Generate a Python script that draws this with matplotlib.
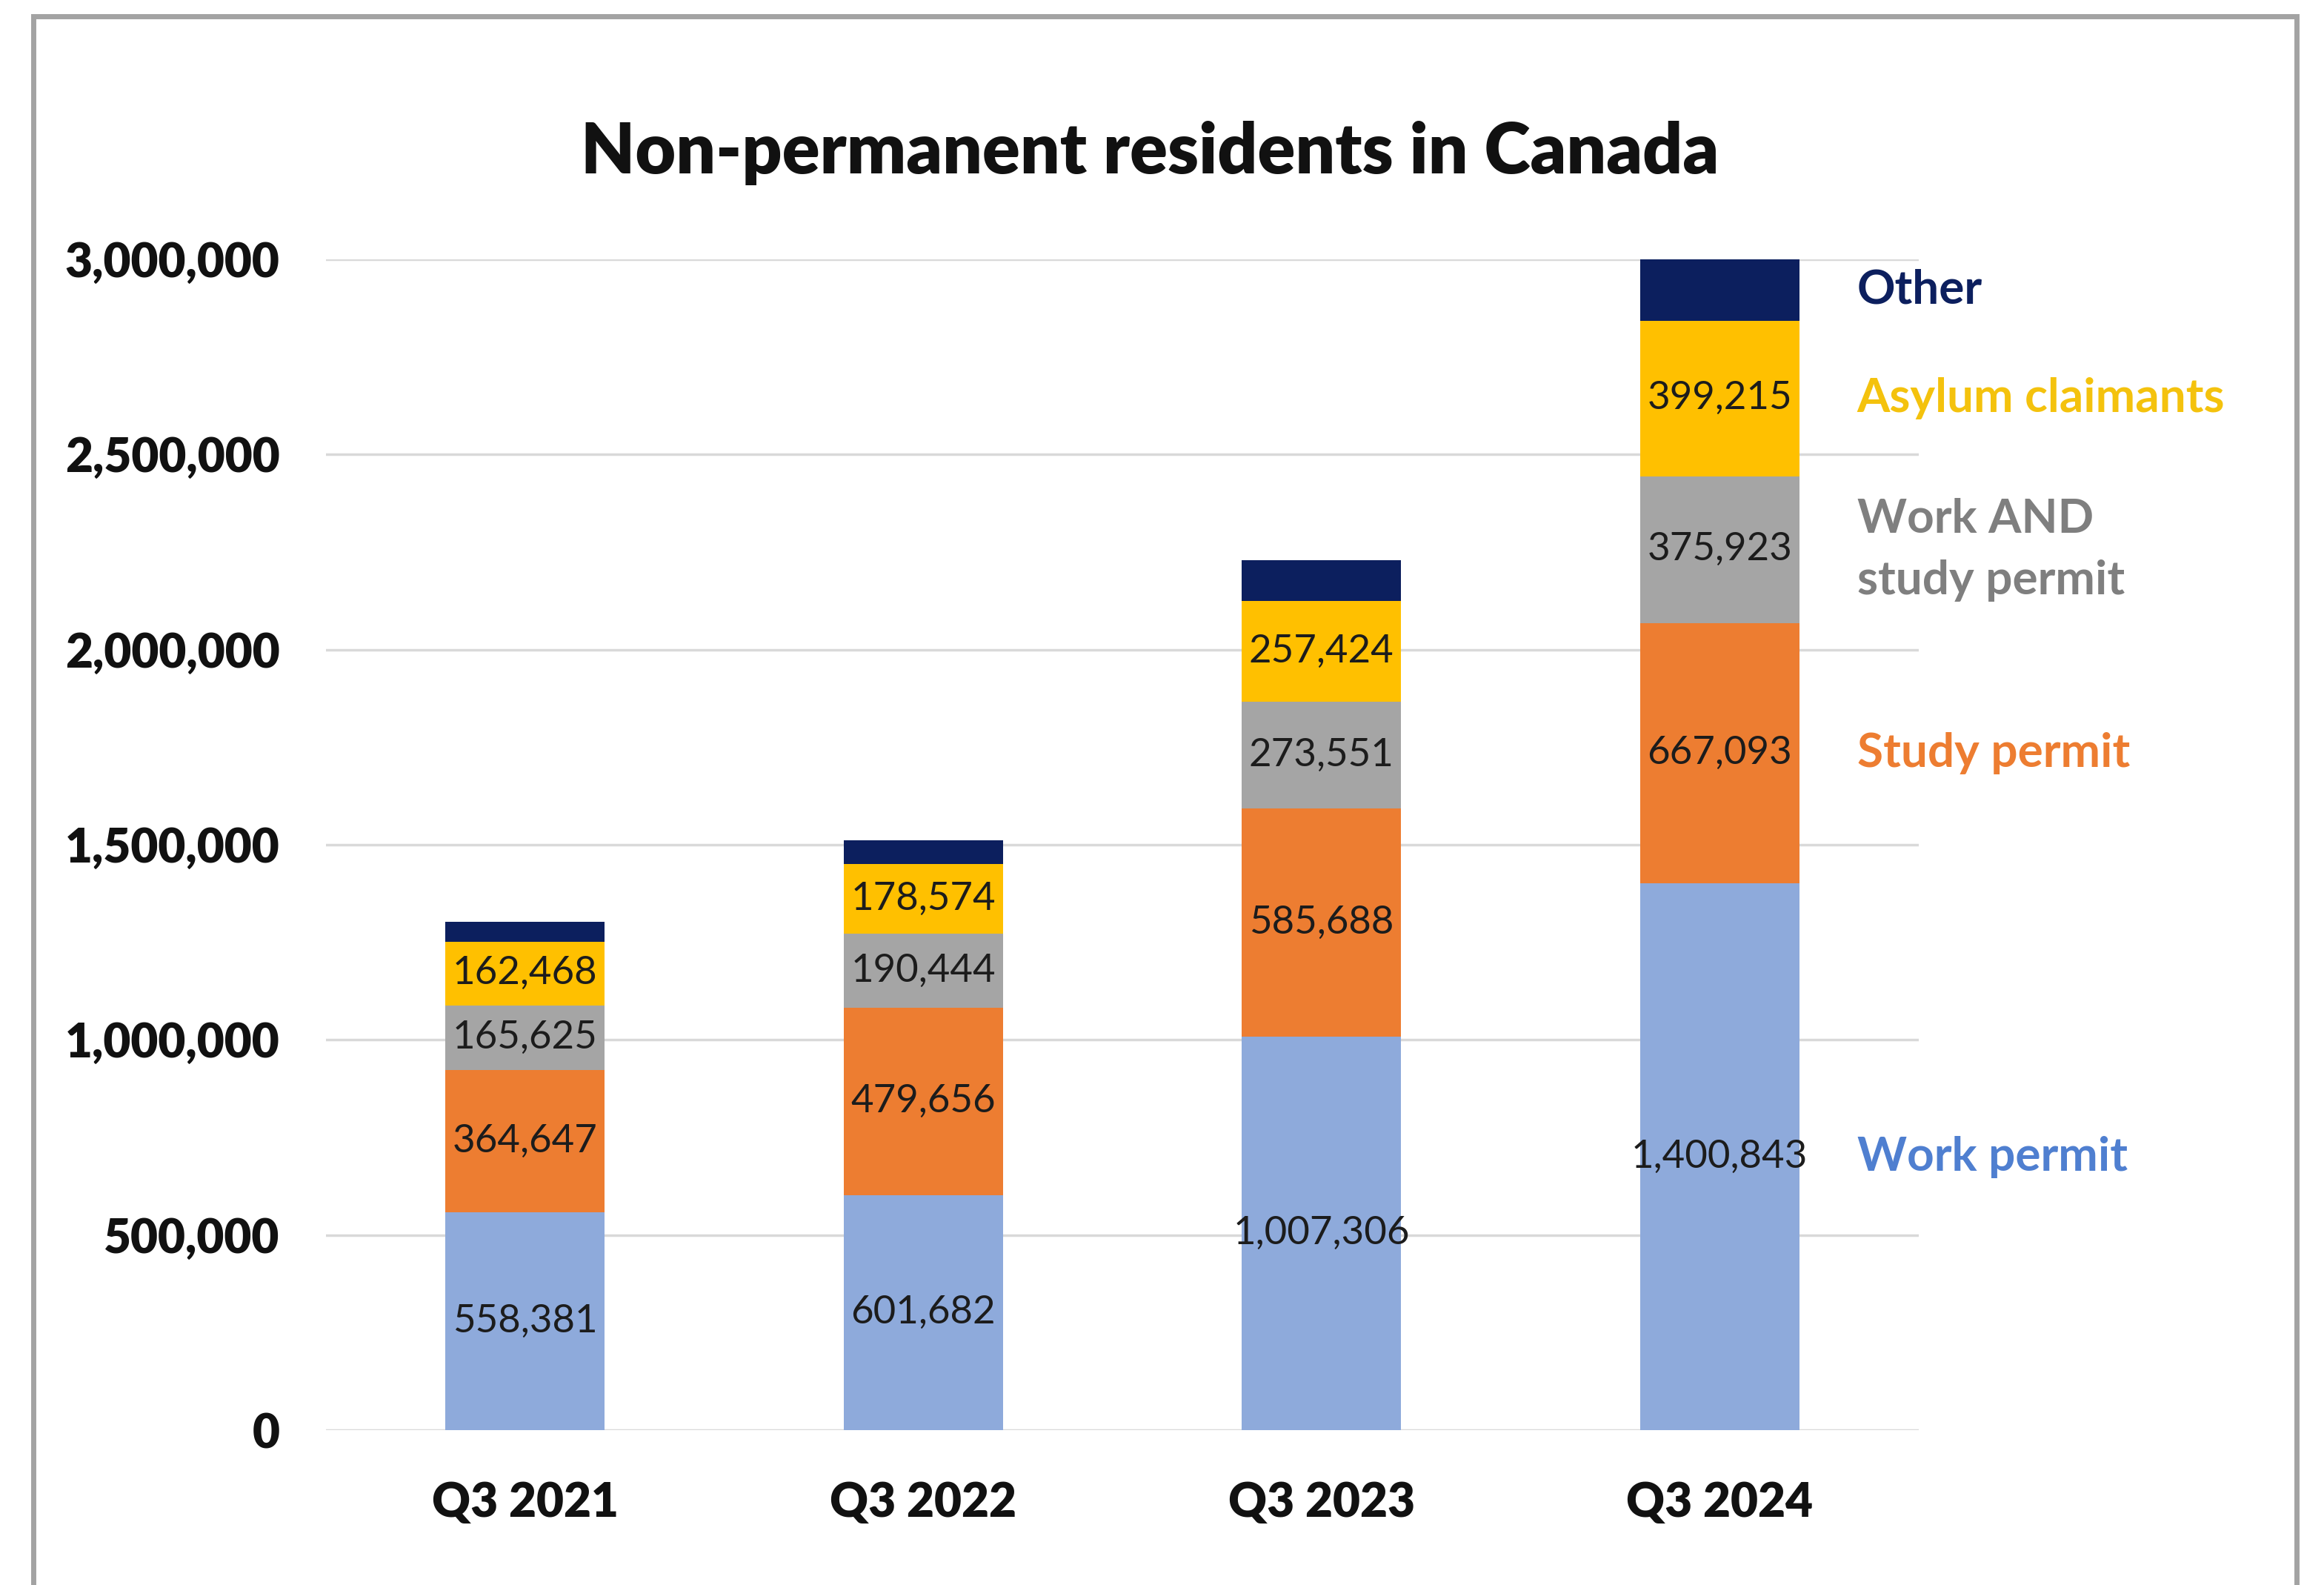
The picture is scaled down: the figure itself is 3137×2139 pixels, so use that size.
import matplotlib
matplotlib.use("Agg")
from matplotlib import pyplot as plt
from matplotlib.patches import Rectangle
import numpy as np

plt.rcParams["font.family"] = ["Lato", "DejaVu Sans"]

# quarterly counts of non-permanent residents, by permit type
quarters = ["Q3 2021", "Q3 2022", "Q3 2023", "Q3 2024"]
work_permit = [558381, 601682, 1007306, 1400843]
study_permit = [364647, 479656, 585688, 667093]
work_and_study = [165625, 190444, 273551, 375923]
asylum = [162468, 178574, 257424, 399215]
other = [52000, 61000, 106000, 159000]

series_names = ["Work permit", "Study permit", "Work AND\nstudy permit",
                "Asylum claimants", "Other"]
series_values = [work_permit, study_permit, work_and_study, asylum, other]
bar_colors = ["#8eaadb", "#ed7d31", "#a5a5a5", "#ffc000", "#0c1f5e"]
name_colors = ["#4f7fd0", "#ed7d31", "#7f7f7f", "#f4c20d", "#0c1f5e"]
show_value = [True, True, True, True, False]

fig = plt.figure(figsize=(31.37, 21.39), dpi=100)
ax = fig.add_axes([0.1403, 0.0977, 0.6853, 0.7387])

x = np.arange(len(quarters))
bottom = np.zeros(len(quarters))
for vals, color, label_it in zip(series_values, bar_colors, show_value):
    vals = np.array(vals, dtype=float)
    ax.bar(x, vals, bottom=bottom, width=0.4, color=color, zorder=3)
    if label_it:
        for xi, b, v in zip(x, bottom, vals):
            ax.text(xi, b + v / 2, f"{int(v):,}", ha="center", va="center",
                    fontsize=38, color="#1c1c1c", zorder=4)
    bottom = bottom + vals

# series names next to the last bar, at the middle of each segment
last = len(quarters) - 1
base = 0.0
for name, vals, color in zip(series_names, series_values, name_colors):
    ax.text(last + 0.345, base + vals[last] / 2, name, ha="left", va="center",
            fontsize=46, fontweight="bold", color=color, linespacing=1.55,
            clip_on=False)
    base += vals[last]

ax.set_xlim(-0.5, len(quarters) - 0.5)
ax.set_ylim(0, 3000000)
ax.set_yticks(np.arange(0, 3000001, 500000))
ax.set_yticklabels([f"{int(t):,}" for t in ax.get_yticks()])
ax.set_xticks(x)
ax.set_xticklabels(quarters)
ax.yaxis.grid(True, color="#d9d9d9", linewidth=2.5, zorder=0)
ax.set_axisbelow(True)
for s in ax.spines.values():
    s.set_visible(False)
ax.tick_params(axis="both", length=0, labelsize=46)
ax.tick_params(axis="y", pad=45)
ax.tick_params(axis="x", pad=50)
for lbl in ax.get_xticklabels() + ax.get_yticklabels():
    lbl.set_fontweight("heavy")
    lbl.set_color("#111111")

fig.text(0.4947, 1 - 206 / 2139, "Non-permanent residents in Canada",
         ha="center", va="center", fontsize=68, fontweight="heavy",
         color="#111111")

# grey frame around the chart, open at the bottom edge
fig.patches.append(Rectangle((45 / 3137, -0.05), (3100 - 45) / 3137,
                             1.05 - 22 / 2139, transform=fig.transFigure,
                             fill=False, edgecolor="#a3a3a3", linewidth=5))

fig.savefig("out.png", dpi=100)
